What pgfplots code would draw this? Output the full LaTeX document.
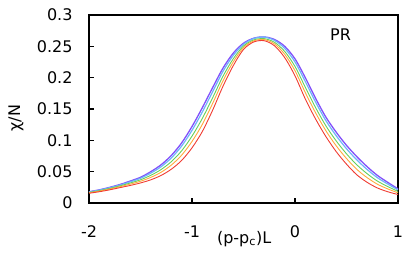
\documentclass[border=0pt]{standalone}
\usepackage{fontspec}
\setmainfont{DejaVu Sans}
\usepackage{pgfplots}
\pgfplotsset{compat=1.18}
\definecolor{cred}{RGB}{240,60,50}
\definecolor{corange}{RGB}{255,170,60}
\definecolor{cgreen}{RGB}{100,210,90}
\definecolor{cblue}{RGB}{110,180,250}
\definecolor{cpurple}{RGB}{130,80,250}
\begin{document}
\begin{tikzpicture}[font=\fontsize{16bp}{19bp}\selectfont]
\useasboundingbox (-89bp,-54bp) rectangle (326bp,203bp);
\begin{axis}[at={(0,0)}, anchor=south west, scale only axis,
  width=309bp, height=188bp,
  xmin=-2, xmax=1, ymin=0, ymax=0.3,
  xtick={-2,-1,0,1}, xticklabels={-2,-1,0,1},
  ytick={0,0.05,0.1,0.15,0.2,0.25,0.3},
  yticklabels={0,0.05,0.1,0.15,0.2,0.25,0.3},
  tick pos=left, tick align=inside, major tick length=5bp,
  axis line style={line width=1.3bp},
  every tick/.style={black, line width=1.3bp},
  xticklabel style={yshift=-19bp},
  yticklabel style={xshift=-13bp},
  xlabel={(p-p\textsubscript{c})L},
  xlabel style={at={(axis description cs:0.502,-0.19)}, anchor=center},
  ylabel={χ/N},
  ylabel style={at={(axis description cs:-0.236,0.452)}, anchor=center, rotate=0},
  clip=false,
  every axis plot/.append style={smooth, line width=0.9bp, mark=none},
]
\addplot[cpurple, line width=1.3bp] coordinates {
(-2.0,0.018) (-1.9,0.021) (-1.8,0.025) (-1.7,0.0295) (-1.6,0.035) (-1.5,0.041)
(-1.4,0.050) (-1.3,0.061) (-1.2,0.076) (-1.1,0.096) (-1.0,0.122) (-0.9,0.152)
(-0.8,0.184) (-0.7,0.215) (-0.6,0.239) (-0.5,0.255) (-0.4,0.263) (-0.3,0.265)
(-0.2,0.261) (-0.1,0.250) (0.0,0.230) (0.1,0.200) (0.2,0.167) (0.3,0.137)
(0.4,0.113) (0.5,0.092) (0.6,0.074) (0.7,0.058) (0.8,0.044) (0.9,0.033) (1.0,0.0225)};
\addplot[cblue, line width=1.2bp] coordinates {
(-2.0,0.0176) (-1.9,0.0205) (-1.8,0.0243) (-1.7,0.0286) (-1.6,0.0337) (-1.5,0.0394)
(-1.4,0.0477) (-1.3,0.0579) (-1.2,0.072) (-1.1,0.091) (-1.0,0.1159) (-0.9,0.1452)
(-0.8,0.1775) (-0.7,0.2098) (-0.6,0.2354) (-0.5,0.2532) (-0.4,0.2625) (-0.3,0.2648)
(-0.2,0.2595) (-0.1,0.2468) (0.0,0.2251) (0.1,0.1939) (0.2,0.1611) (0.3,0.1314)
(0.4,0.1074) (0.5,0.0866) (0.6,0.0688) (0.7,0.0535) (0.8,0.0404) (0.9,0.0303) (1.0,0.0209)};
\addplot[cgreen] coordinates {
(-2.0,0.0169) (-1.9,0.0197) (-1.8,0.0232) (-1.7,0.0273) (-1.6,0.0319) (-1.5,0.037)
(-1.4,0.0442) (-1.3,0.0534) (-1.2,0.0661) (-1.1,0.0834) (-1.0,0.1067) (-0.9,0.1349)
(-0.8,0.1678) (-0.7,0.2020) (-0.6,0.2300) (-0.5,0.2505) (-0.4,0.2603) (-0.3,0.2623)
(-0.2,0.2565) (-0.1,0.2419) (0.0,0.2179) (0.1,0.1847) (0.2,0.1522) (0.3,0.1231)
(0.4,0.0991) (0.5,0.0785) (0.6,0.0610) (0.7,0.0468) (0.8,0.0350) (0.9,0.0263) (1.0,0.0185)};
\addplot[corange] coordinates {
(-2.0,0.0163) (-1.9,0.0189) (-1.8,0.0222) (-1.7,0.026) (-1.6,0.0301) (-1.5,0.0347)
(-1.4,0.0409) (-1.3,0.0491) (-1.2,0.0606) (-1.1,0.0764) (-1.0,0.0982) (-0.9,0.1254)
(-0.8,0.1588) (-0.7,0.1947) (-0.6,0.2250) (-0.5,0.248) (-0.4,0.2588) (-0.3,0.2608)
(-0.2,0.254) (-0.1,0.2374) (0.0,0.2111) (0.1,0.1762) (0.2,0.1439) (0.3,0.1153)
(0.4,0.0913) (0.5,0.0710) (0.6,0.0537) (0.7,0.0405) (0.8,0.0300) (0.9,0.0225) (1.0,0.0162)};
\addplot[cred] coordinates {
(-2.0,0.0155) (-1.9,0.018) (-1.8,0.021) (-1.7,0.0245) (-1.6,0.028) (-1.5,0.032)
(-1.4,0.037) (-1.3,0.044) (-1.2,0.054) (-1.1,0.068) (-1.0,0.088) (-0.9,0.114)
(-0.8,0.148) (-0.7,0.186) (-0.6,0.219) (-0.5,0.245) (-0.4,0.257) (-0.3,0.259)
(-0.2,0.251) (-0.1,0.232) (0.0,0.203) (0.1,0.166) (0.2,0.134) (0.3,0.106)
(0.4,0.082) (0.5,0.062) (0.6,0.045) (0.7,0.033) (0.8,0.024) (0.9,0.018) (1.0,0.0135)};
\node at (axis cs:0.442,0.269) {PR};
\end{axis}
\end{tikzpicture}
\end{document}
